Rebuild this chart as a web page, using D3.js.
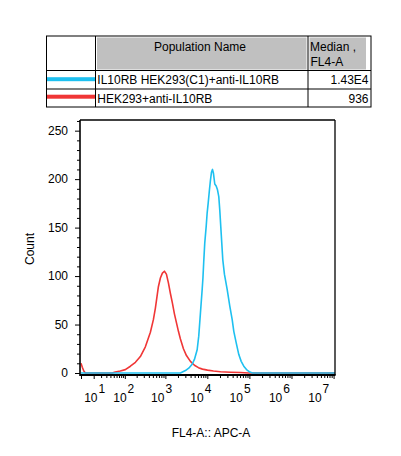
<!DOCTYPE html>
<html>
<head>
<meta charset="utf-8">
<script src="https://cdn.jsdelivr.net/npm/d3@7"></script>
<style>
  html, body { margin: 0; padding: 0; background: #fff; }
  svg { display: block; font-family: "Liberation Sans", Arial, sans-serif; }
</style>
</head>
<body>
<div id="chart"></div>
<script>
// ---- data ----
const tableHeaders = ["Population Name", "Median ,", "FL4-A"];
const sampleNames = ["IL10RB HEK293(C1)+anti-IL10RB", "HEK293+anti-IL10RB"];
const sampleMedians = ["1.43E4", "936"];

// FL4-A value / count pairs
const cyanValues = [0, 2290, 3015, 3614, 4356, 4938, 5734, 6254, 6865, 7540, 7870, 8226, 8690, 9390, 9910,
  10470, 11240, 11880, 12550, 13260, 14000, 15040, 16240, 17460, 18740, 19790, 20890, 22070, 23310,
  25500, 29690, 34230, 39010, 42610, 48610, 56040, 63870, 73610, 85390, 102200, 118500, 1.08e7];
const cyanCounts = [0, 0, 2.5, 5, 9, 14, 24, 38, 62, 86, 98, 115, 134, 151, 165,
  175, 189, 199, 207, 210, 206, 195, 193, 189, 182, 168, 151, 134, 117,
  102, 86, 69, 55, 43, 31, 19, 12, 7, 3.6, 1, 0, 0];

const redValues = [0, 0.74, 1.66, 2.66, 45, 55, 76, 103, 139, 186, 247, 328, 435, 514, 575, 679, 759,
  848, 948, 1058, 1182, 1320, 1474, 1646, 1838, 2052, 2290, 2702, 3186, 3965, 4938, 6150, 7660,
  10080, 14000, 20570, 35570, 61510, 95270, 1.08e7];
const redCounts = [10, 6, 2, 0, 0, 1, 2, 3.5, 7, 11, 17, 27, 42, 55, 67, 89, 98,
  103, 105, 102, 93, 82, 72, 61, 52, 43, 35, 25, 18, 12, 8, 5.5, 4,
  3, 2, 1.3, 0.8, 0.5, 0, 0];

const yMajorTicks = [0, 50, 100, 150, 200, 250];
const xDecades = [1, 2, 3, 4, 5, 6, 7];
const xTitle = "FL4-A:: APC-A";
const yTitle = "Count";

const seriesColors = ["#1ec0f0", "#f03636"];

// ---- layout ----
const W = 401, H = 456;
const plot = { left: 80, right: 335, top: 120, bottom: 375 };
const svg = d3.select("#chart").append("svg").attr("width", W).attr("height", H);

const x = d3.scaleSymlog().constant(10).domain([0, 1.08e7]).range([81, 335]);
const y = d3.scaleLinear().domain([0, 261]).range([373, 120]);

// ---- table ----
const tbl = { left: 46.5, right: 371, top: 36, bottom: 107, col1: 95.5, col2: 308, row1: 70.5, row2: 89 };
const table = svg.append("g").attr("font-size", "12px").attr("fill", "#000");

table.append("rect").attr("x", 97).attr("y", 37.5).attr("width", 209.5).attr("height", 32).attr("fill", "#c0c0c0");
table.append("rect").attr("x", 309.5).attr("y", 37.5).attr("width", 56.5).attr("height", 32).attr("fill", "#c0c0c0");

table.append("rect")
  .attr("x", tbl.left).attr("y", tbl.top)
  .attr("width", tbl.right - tbl.left).attr("height", tbl.bottom - tbl.top)
  .attr("fill", "none").attr("stroke", "#000").attr("stroke-width", 1);
[tbl.col1, tbl.col2].forEach(cx => {
  table.append("line").attr("x1", cx).attr("x2", cx).attr("y1", tbl.top).attr("y2", tbl.bottom)
    .attr("stroke", "#000").attr("stroke-width", 1);
});
[tbl.row1, tbl.row2].forEach(ry => {
  table.append("line").attr("x1", tbl.left).attr("x2", tbl.right).attr("y1", ry).attr("y2", ry)
    .attr("stroke", "#000").attr("stroke-width", 1);
});

table.append("text").attr("x", 200).attr("y", 50.5).attr("text-anchor", "middle").text(tableHeaders[0]);
table.append("text").attr("x", 310).attr("y", 50.5).text(tableHeaders[1]);
table.append("text").attr("x", 310.5).attr("y", 66).text(tableHeaders[2]);

const rowBaselines = [84.3, 103.3];
const swatchY = [79.2, 96.7];
sampleNames.forEach((name, i) => {
  table.append("rect").attr("x", 47).attr("y", swatchY[i] - 2).attr("width", 48).attr("height", 4)
    .attr("fill", seriesColors[i]);
  table.append("text").attr("x", 97.3).attr("y", rowBaselines[i]).text(name);
  table.append("text").attr("x", 368.5).attr("y", rowBaselines[i]).attr("text-anchor", "end").text(sampleMedians[i]);
});

// ---- axes ----
const yMinor = d3.range(0, 261, 10).filter(v => !yMajorTicks.includes(v));
const gy = svg.append("g").attr("transform", `translate(${plot.left},0)`);
gy.call(d3.axisLeft(y).tickValues(yMinor).tickSize(3).tickFormat(""));
gy.append("g").call(d3.axisLeft(y).tickValues(yMajorTicks).tickSize(5).tickPadding(7));
gy.selectAll(".domain").remove();
gy.selectAll("line").attr("stroke", "#000").attr("stroke-width", 1);
gy.selectAll("text").attr("font-size", "12px").attr("font-family", "Liberation Sans, Arial, sans-serif").attr("fill", "#000");

const xMajor = [0, ...xDecades.map(k => 10 ** k)];
const xMinor = [];
xDecades.slice(0, -1).forEach(k => {
  for (let m = 2; m <= 9; m++) xMinor.push(m * 10 ** k);
});
const gx = svg.append("g").attr("transform", `translate(0,${plot.bottom})`);
gx.call(d3.axisBottom(x).tickValues(xMinor).tickSize(3).tickFormat(""));
gx.append("g").call(d3.axisBottom(x).tickValues(xMajor).tickSize(4).tickFormat(""));
gx.selectAll(".domain").remove();
gx.selectAll("line").attr("stroke", "#000").attr("stroke-width", 1);

// decade labels sit on a slightly compressed spacing, like the cytometry software draws them
const labelRight = v => 17.7 + 0.934 * x(v);
const xl = svg.append("g").attr("font-size", "12px").attr("fill", "#000");
xDecades.forEach(k => {
  const t = xl.append("text").attr("x", labelRight(10 ** k)).attr("y", 402).attr("text-anchor", "end");
  t.append("tspan").text("10");
  t.append("tspan").attr("dy", -9).attr("dx", 1).text(k);
});

// titles
svg.append("text").attr("x", 211).attr("y", 437).attr("text-anchor", "middle")
  .attr("font-size", "12px").attr("fill", "#000").text(xTitle);
svg.append("text").attr("transform", "translate(34,249) rotate(-90)").attr("text-anchor", "middle")
  .attr("font-size", "12px").attr("fill", "#000").text(yTitle);

// ---- histograms ----
const line = d3.line().x(d => x(d[0])).y(d => y(d[1]));
svg.append("path").datum(d3.zip(redValues, redCounts)).attr("d", line)
  .attr("fill", "none").attr("stroke", seriesColors[1]).attr("stroke-width", 1.6).attr("stroke-linejoin", "round");
svg.append("path").datum(d3.zip(cyanValues, cyanCounts)).attr("d", line)
  .attr("fill", "none").attr("stroke", seriesColors[0]).attr("stroke-width", 1.6).attr("stroke-linejoin", "round");

// ---- frame ----
const frame = svg.append("g").attr("stroke", "#000");
frame.append("line").attr("x1", plot.left).attr("x2", plot.right).attr("y1", plot.top).attr("y2", plot.top).attr("stroke-width", 1.3);
frame.append("line").attr("x1", plot.right).attr("x2", plot.right).attr("y1", plot.top).attr("y2", plot.bottom).attr("stroke-width", 1.3);
frame.append("line").attr("x1", plot.left).attr("x2", plot.left).attr("y1", plot.top).attr("y2", plot.bottom + 1).attr("stroke-width", 1.6);
frame.append("line").attr("x1", plot.left).attr("x2", plot.right + 0.6).attr("y1", plot.bottom).attr("y2", plot.bottom).attr("stroke-width", 2);
</script>
</body>
</html>
